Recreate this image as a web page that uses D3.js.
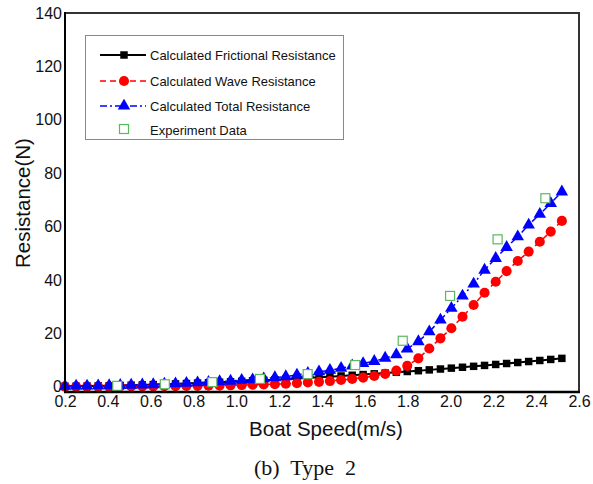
<!DOCTYPE html>
<html>
<head>
<meta charset="utf-8">
<script src="https://cdn.jsdelivr.net/npm/d3@7"></script>
<style>
  html, body { margin: 0; padding: 0; background: #fff; }
  svg { display: block; }
</style>
</head>
<body>
<svg id="chart" width="593" height="484"></svg>
<script>
// ---- Data ----
const speeds = [0.200,0.252,0.303,0.355,0.406,0.458,0.509,0.561,0.612,0.664,
  0.716,0.767,0.819,0.870,0.922,0.973,1.025,1.076,1.128,1.180,
  1.231,1.283,1.334,1.386,1.437,1.489,1.541,1.592,1.644,1.695,
  1.747,1.798,1.850,1.901,1.953,2.004,2.056,2.108,2.159,2.211,
  2.262,2.314,2.365,2.417,2.468,2.520];
const frictional = [0.10,0.15,0.21,0.28,0.36,0.45,0.55,0.66,0.77,0.90,
  1.03,1.17,1.33,1.48,1.65,1.82,2.00,2.20,2.40,2.60,
  2.82,3.04,3.27,3.51,3.75,4.01,4.27,4.53,4.81,5.09,
  5.38,5.68,5.98,6.29,6.61,6.94,7.27,7.62,7.96,8.32,
  8.68,9.05,9.42,9.81,10.20,10.60];
const wave = [0.0,0.0,0.0,0.0,0.0,0.05,0.05,0.1,0.1,0.15,
  0.2,0.25,0.3,0.35,0.4,0.5,0.6,0.7,0.8,0.95,
  1.1,1.3,1.6,1.8,2.1,2.5,2.9,3.4,4.0,4.8,
  6.0,7.8,10.6,14.3,18.1,21.9,26.2,30.6,35.2,39.3,
  43.3,47.1,50.6,54.3,58.1,62.1];
const total = [0.2,0.25,0.3,0.35,0.4,0.5,0.6,0.7,0.8,1.0,
  1.1,1.3,1.5,1.7,1.9,2.1,2.4,2.6,3.0,3.4,
  3.8,4.4,5.0,5.6,6.2,6.9,7.8,8.7,9.5,10.7,
  12.0,14.2,16.9,20.6,25.0,29.4,34.0,38.5,43.7,48.1,
  52.2,56.2,60.6,64.6,68.7,73.0];
const expSpeeds = [0.444,0.666,0.888,1.110,1.333,1.555,1.777,1.998,2.220,2.443];
const expValues = [0.3,0.9,1.7,2.9,4.7,8.1,17.2,34.0,55.2,70.6];

const xTicks = [0.2,0.4,0.6,0.8,1.0,1.2,1.4,1.6,1.8,2.0,2.2,2.4,2.6];
const yTicks = [0,20,40,60,80,100,120,140];

const legendLabels = ["Calculated Frictional Resistance","Calculated Wave Resistance",
  "Calculated Total Resistance","Experiment Data"];

// ---- Layout ----
const svg = d3.select("#chart");
const L = 65, R = 579, T = 13, B = 392;
const x = d3.scaleLinear().domain([0.2, 2.6]).range([L, R]);
const y = d3.scaleLinear().domain([-2, 140]).range([B, T]);
const font = "'Liberation Sans', Arial, sans-serif";

// axes labels
const xAxis = d3.axisBottom(x).tickValues(xTicks).tickFormat(d3.format(".1f")).tickSize(0).tickPadding(4);
const gx = svg.append("g").attr("transform", `translate(0,${B})`).call(xAxis);
gx.select(".domain").remove();
gx.selectAll("text").attr("font-family", font).attr("font-size", 16).attr("fill", "#111");

const yAxis = d3.axisLeft(y).tickValues(yTicks).tickFormat(d3.format("d")).tickSize(0).tickPadding(3);
const gy = svg.append("g").attr("transform", `translate(${L},0)`).call(yAxis);
gy.select(".domain").remove();
gy.selectAll("text").attr("font-family", font).attr("font-size", 16).attr("fill", "#111");

// axis titles
svg.append("text").attr("x", 326).attr("y", 436).attr("text-anchor", "middle")
  .attr("font-family", font).attr("font-size", 20.5).attr("fill", "#111").text("Boat Speed(m/s)");
svg.append("text").attr("transform", "translate(30,203) rotate(-90)").attr("text-anchor", "middle")
  .attr("font-family", font).attr("font-size", 20.5).attr("fill", "#111").text("Resistance(N)");
svg.append("text").attr("x", 305).attr("y", 475).attr("text-anchor", "middle")
  .attr("font-family", "'Liberation Serif', 'Times New Roman', serif").attr("font-size", 22)
  .attr("fill", "#111").attr("xml:space", "preserve").style("white-space", "pre").text("(b)  Type  2");

// ---- Series ----
const series = [
  {name: legendLabels[0], vals: frictional, color: "#000", dash: null, width: 2, sym: d3.symbolSquare, size: 56},
  {name: legendLabels[1], vals: wave, color: "#ff0000", dash: "6,4", width: 1.5, sym: d3.symbolCircle, size: 80},
  {name: legendLabels[2], vals: total, color: "#0000ff", dash: "7,3,2,3", width: 1.5, sym: d3.symbolTriangle, size: 68}
];

const line = d3.line().x(d => x(d[0])).y(d => y(d[1]));
series.forEach(s => {
  const pts = speeds.map((v, i) => [v, s.vals[i]]);
  const g = svg.append("g");
  g.append("path").attr("d", line(pts)).attr("fill", "none")
    .attr("stroke", s.color).attr("stroke-width", s.width)
    .attr("stroke-dasharray", s.dash);
  g.selectAll("path.m").data(pts).enter().append("path").attr("class", "m")
    .attr("transform", d => `translate(${x(d[0])},${y(d[1])})`)
    .attr("d", d3.symbol().type(s.sym).size(s.size)).attr("fill", s.color);
});

// experiment
const expPts = expSpeeds.map((v, i) => [v, expValues[i]]);
svg.append("g").selectAll("rect").data(expPts).enter().append("rect")
  .attr("x", d => x(d[0]) - 4.5).attr("y", d => y(d[1]) - 4.5)
  .attr("width", 9).attr("height", 9)
  .attr("fill", "#fff").attr("stroke", "#5cb85c").attr("stroke-width", 1.2);

// ---- Frame ----
svg.append("rect").attr("x", L).attr("y", T).attr("width", R - L).attr("height", B - T)
  .attr("fill", "none").attr("stroke", "#333").attr("stroke-width", 2);
svg.append("line").attr("x1", L).attr("x2", L).attr("y1", T - 1).attr("y2", B + 1).attr("stroke", "#000").attr("stroke-width", 2);
svg.append("line").attr("x1", L - 1).attr("x2", R + 1).attr("y1", B).attr("y2", B).attr("stroke", "#000").attr("stroke-width", 2.5);

// ---- Legend ----
const lg = svg.append("g");
lg.append("rect").attr("x", 85.5).attr("y", 35.5).attr("width", 258).attr("height", 104)
  .attr("fill", "#fff").attr("stroke", "#888").attr("stroke-width", 1);
const rowY = [55, 81, 106, 130];
series.forEach((s, i) => {
  lg.append("line").attr("x1", 100).attr("x2", 146).attr("y1", rowY[i]).attr("y2", rowY[i])
    .attr("stroke", s.color).attr("stroke-width", s.width).attr("stroke-dasharray", s.dash);
  lg.append("path").attr("transform", `translate(124,${rowY[i]})`)
    .attr("d", d3.symbol().type(s.sym).size(s.size)).attr("fill", s.color);
});
lg.append("rect").attr("x", 119.5).attr("y", rowY[3] - 5.5).attr("width", 9).attr("height", 9)
  .attr("fill", "#fff").attr("stroke", "#5cb85c").attr("stroke-width", 1.2);
legendLabels.forEach((t, i) => {
  lg.append("text").attr("x", 150).attr("y", rowY[i]).attr("dy", "0.35em")
    .attr("font-family", font).attr("font-size", 13).attr("fill", "#111").text(t);
});
</script>
</body>
</html>
